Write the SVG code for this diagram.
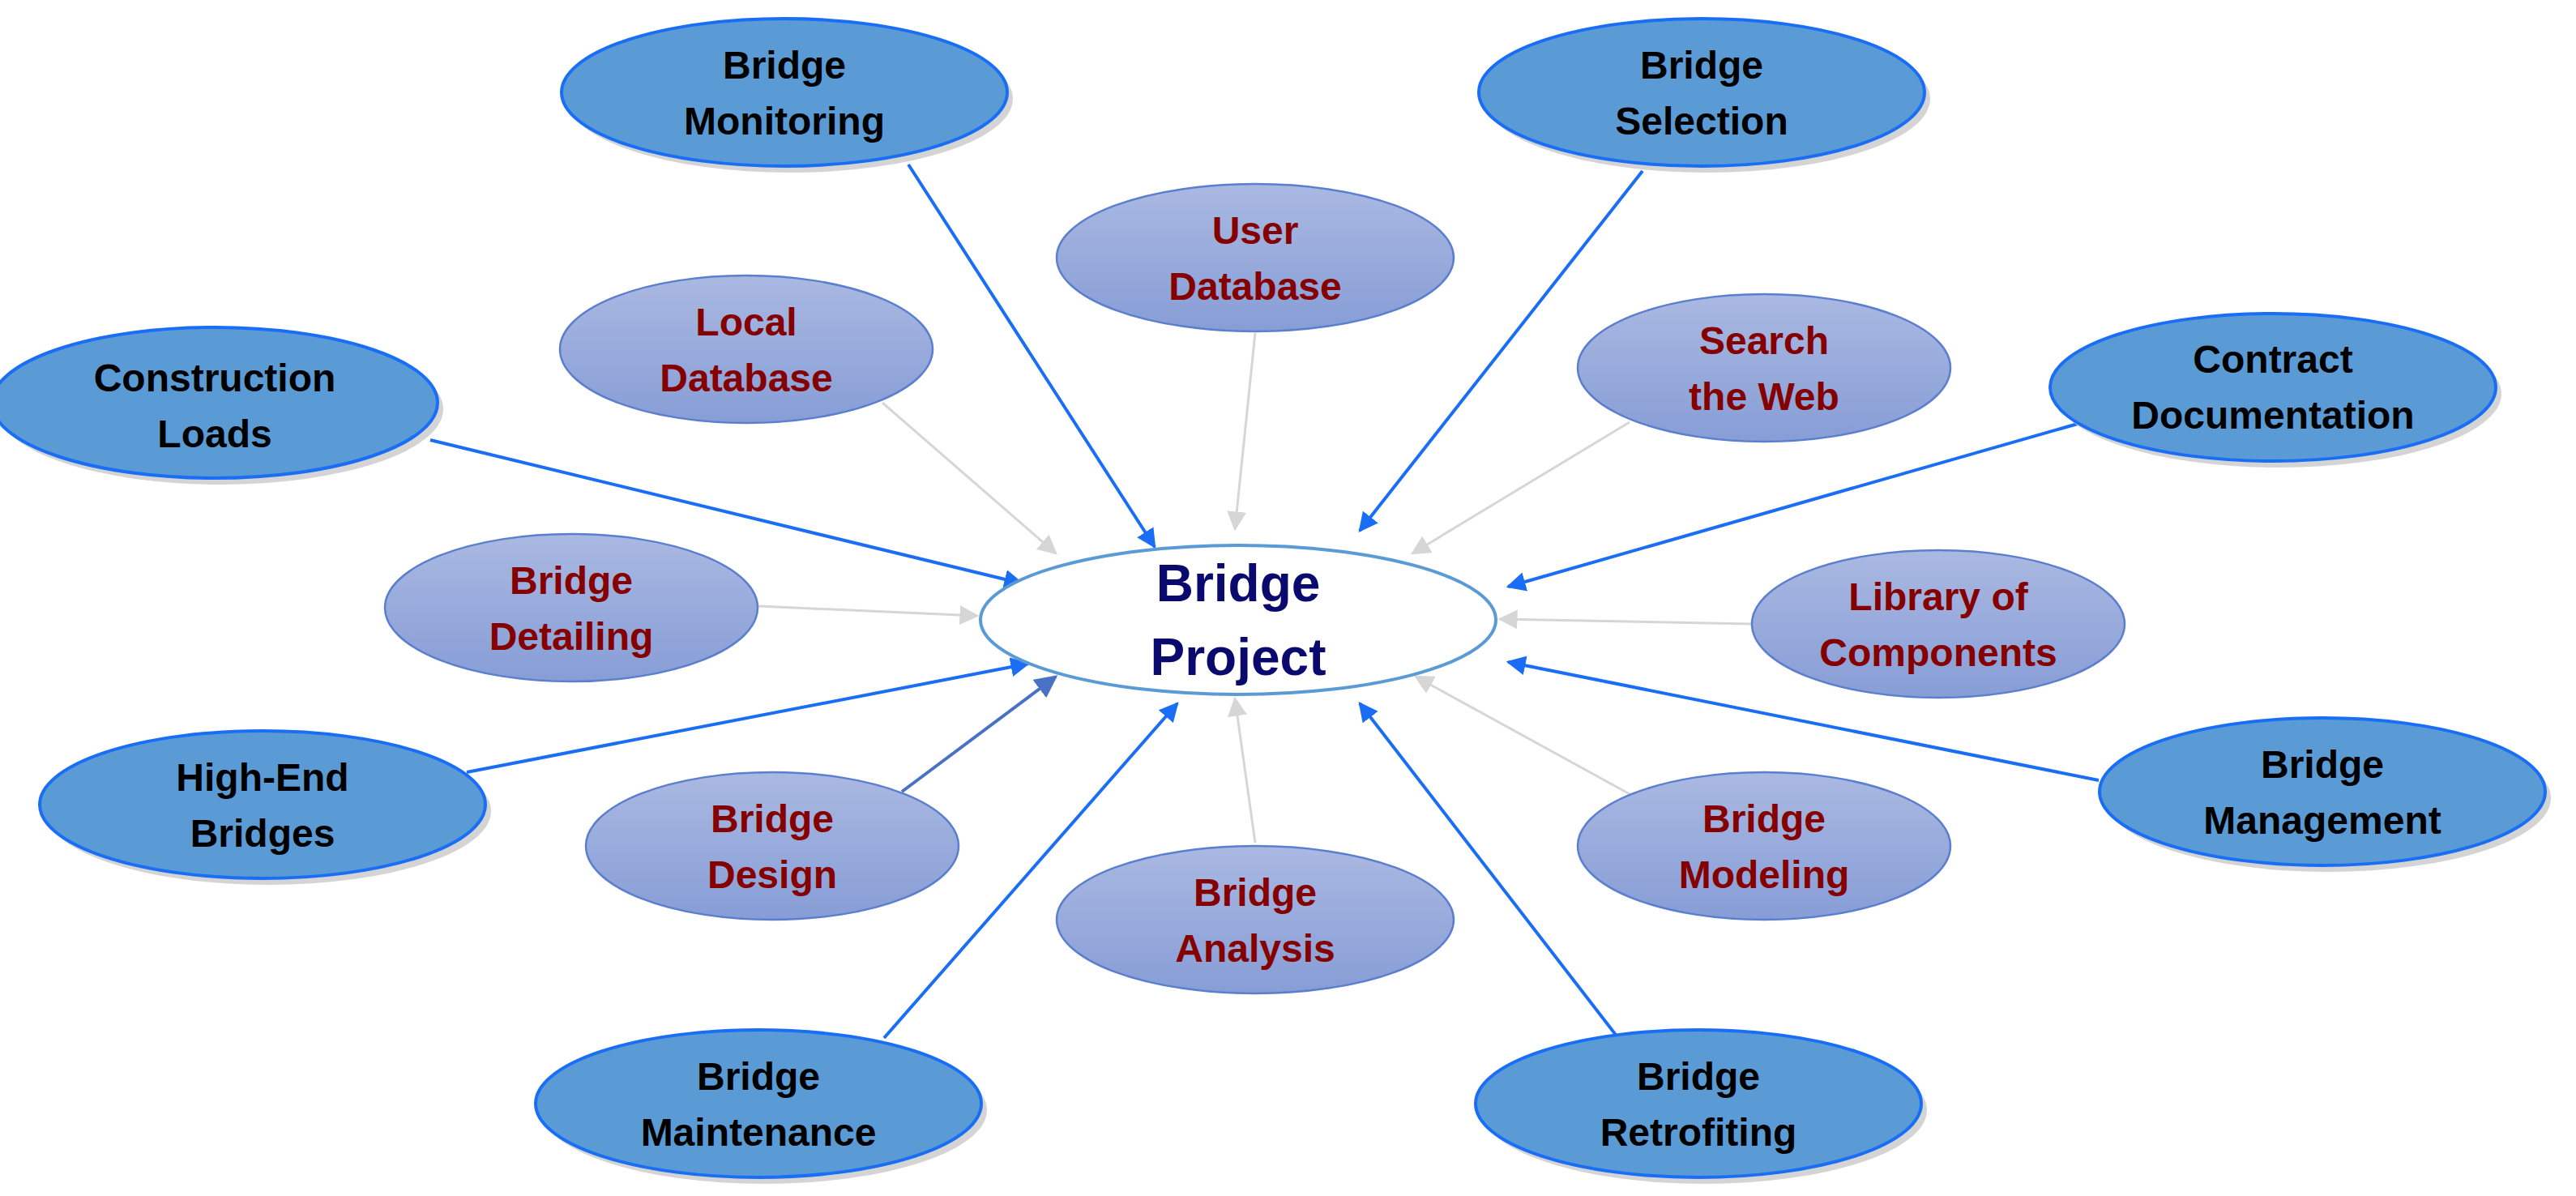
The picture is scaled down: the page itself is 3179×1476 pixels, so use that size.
<svg xmlns="http://www.w3.org/2000/svg" width="3179" height="1476" viewBox="0 0 3179 1476">
<defs>
<linearGradient id="lg" x1="0" y1="0" x2="0" y2="1"><stop offset="0" stop-color="#aab9e2"/><stop offset="1" stop-color="#879dd6"/></linearGradient>
<marker id="ab" viewBox="0 0 10 10" refX="9" refY="5" markerWidth="6" markerHeight="6" markerUnits="strokeWidth" orient="auto"><path d="M0,0 L10,5 L0,10 z" fill="#1a6ef5"/></marker>
<marker id="ag" viewBox="0 0 10 10" refX="9" refY="5" markerWidth="8" markerHeight="8" markerUnits="strokeWidth" orient="auto"><path d="M0,0 L10,5 L0,10 z" fill="#d6d6d6"/></marker>
<marker id="ad" viewBox="0 0 10 10" refX="9" refY="5" markerWidth="7" markerHeight="7" markerUnits="strokeWidth" orient="auto"><path d="M0,0 L10,5 L0,10 z" fill="#4a72c4"/></marker>
</defs>
<style>
.dk{fill:#5b9bd5;stroke:#1a6ef5;stroke-width:4}
.lt{fill:url(#lg);stroke:#5b7fce;stroke-width:2.5}
.sh{fill:#d4d4d4}
text{font-family:"Liberation Sans",Arial,sans-serif;font-weight:bold;text-anchor:middle}
.tk{font-size:48px;fill:#000}
.tr{font-size:48px;fill:#850000}
.b{stroke:#1a6ef5;stroke-width:4;fill:none;marker-end:url(#ab)}
.g{stroke:#d6d6d6;stroke-width:3;fill:none;marker-end:url(#ag)}
.d{stroke:#4a72c4;stroke-width:4;fill:none;marker-end:url(#ad)}
</style>
<rect width="3179" height="1476" fill="#fff"/>
<g id="connectors">
<line class="b" x1="1121" y1="203" x2="1425" y2="675"/>
<line class="g" x1="1089" y1="497" x2="1303" y2="683"/>
<line class="b" x1="531" y1="543" x2="1261" y2="720"/>
<line class="g" x1="1549" y1="411" x2="1524" y2="653"/>
<line class="b" x1="2027" y1="211" x2="1678" y2="655"/>
<line class="g" x1="2011" y1="521" x2="1743" y2="683"/>
<line class="b" x1="2564" y1="523" x2="1861" y2="724"/>
<line class="g" x1="936" y1="748" x2="1206" y2="760"/>
<line class="g" x1="2161" y1="770" x2="1851" y2="764"/>
<line class="b" x1="576" y1="953" x2="1269" y2="819"/>
<line class="b" x1="2590" y1="963" x2="1861" y2="817"/>
<line class="d" x1="1113" y1="977" x2="1303" y2="835"/>
<line class="g" x1="2013" y1="981" x2="1747" y2="835"/>
<line class="g" x1="1549" y1="1040" x2="1524" y2="862"/>
<line class="b" x1="1091" y1="1281" x2="1453" y2="868"/>
<line class="b" x1="1997" y1="1281" x2="1678" y2="868"/>
</g>
<g id="center"><ellipse cx="1528" cy="765" rx="318" ry="92" fill="#fff" stroke="#5b9bd5" stroke-width="4"/>
<text x="1528" y="742" font-size="64" fill="#0a0a6e">Bridge</text><text x="1528" y="833" font-size="64" fill="#0a0a6e">Project</text></g>
<g id="monitoring"><ellipse class="sh" cx="975" cy="122" rx="275" ry="91"/><ellipse class="dk" cx="968" cy="114" rx="275" ry="91"/><text class="tk" x="968" y="97">Bridge</text><text class="tk" x="968" y="166">Monitoring</text></g>
<g id="construction"><ellipse class="sh" cx="272" cy="505" rx="275" ry="93"/><ellipse class="dk" cx="265" cy="497" rx="275" ry="93"/><text class="tk" x="265" y="483">Construction</text><text class="tk" x="265" y="552">Loads</text></g>
<g id="selection"><ellipse class="sh" cx="2107" cy="122" rx="275" ry="91"/><ellipse class="dk" cx="2100" cy="114" rx="275" ry="91"/><text class="tk" x="2100" y="97">Bridge</text><text class="tk" x="2100" y="166">Selection</text></g>
<g id="contract"><ellipse class="sh" cx="2812" cy="486" rx="275" ry="91"/><ellipse class="dk" cx="2805" cy="478" rx="275" ry="91"/><text class="tk" x="2805" y="460">Contract</text><text class="tk" x="2805" y="529">Documentation</text></g>
<g id="highend"><ellipse class="sh" cx="331" cy="1001" rx="275" ry="91"/><ellipse class="dk" cx="324" cy="993" rx="275" ry="91"/><text class="tk" x="324" y="976">High-End</text><text class="tk" x="324" y="1045">Bridges</text></g>
<g id="management"><ellipse class="sh" cx="2873" cy="985" rx="275" ry="91"/><ellipse class="dk" cx="2866" cy="977" rx="275" ry="91"/><text class="tk" x="2866" y="960">Bridge</text><text class="tk" x="2866" y="1029">Management</text></g>
<g id="maintenance"><ellipse class="sh" cx="943" cy="1370" rx="275" ry="91"/><ellipse class="dk" cx="936" cy="1362" rx="275" ry="91"/><text class="tk" x="936" y="1345">Bridge</text><text class="tk" x="936" y="1414">Maintenance</text></g>
<g id="retrofiting"><ellipse class="sh" cx="2103" cy="1370" rx="275" ry="91"/><ellipse class="dk" cx="2096" cy="1362" rx="275" ry="91"/><text class="tk" x="2096" y="1345">Bridge</text><text class="tk" x="2096" y="1414">Retrofiting</text></g>
<g id="localdb"><ellipse class="lt" cx="921" cy="431" rx="230" ry="91"/><text class="tr" x="921" y="414">Local</text><text class="tr" x="921" y="483">Database</text></g>
<g id="userdb"><ellipse class="lt" cx="1549" cy="318" rx="245" ry="91"/><text class="tr" x="1549" y="301">User</text><text class="tr" x="1549" y="370">Database</text></g>
<g id="search"><ellipse class="lt" cx="2177" cy="454" rx="230" ry="91"/><text class="tr" x="2177" y="437">Search</text><text class="tr" x="2177" y="506">the Web</text></g>
<g id="detailing"><ellipse class="lt" cx="705" cy="750" rx="230" ry="91"/><text class="tr" x="705" y="733">Bridge</text><text class="tr" x="705" y="802">Detailing</text></g>
<g id="library"><ellipse class="lt" cx="2392" cy="770" rx="230" ry="91"/><text class="tr" x="2392" y="753">Library of</text><text class="tr" x="2392" y="822">Components</text></g>
<g id="design"><ellipse class="lt" cx="953" cy="1044" rx="230" ry="91"/><text class="tr" x="953" y="1027">Bridge</text><text class="tr" x="953" y="1096">Design</text></g>
<g id="modeling"><ellipse class="lt" cx="2177" cy="1044" rx="230" ry="91"/><text class="tr" x="2177" y="1027">Bridge</text><text class="tr" x="2177" y="1096">Modeling</text></g>
<g id="analysis"><ellipse class="lt" cx="1549" cy="1135" rx="245" ry="91"/><text class="tr" x="1549" y="1118">Bridge</text><text class="tr" x="1549" y="1187">Analysis</text></g>
</svg>
